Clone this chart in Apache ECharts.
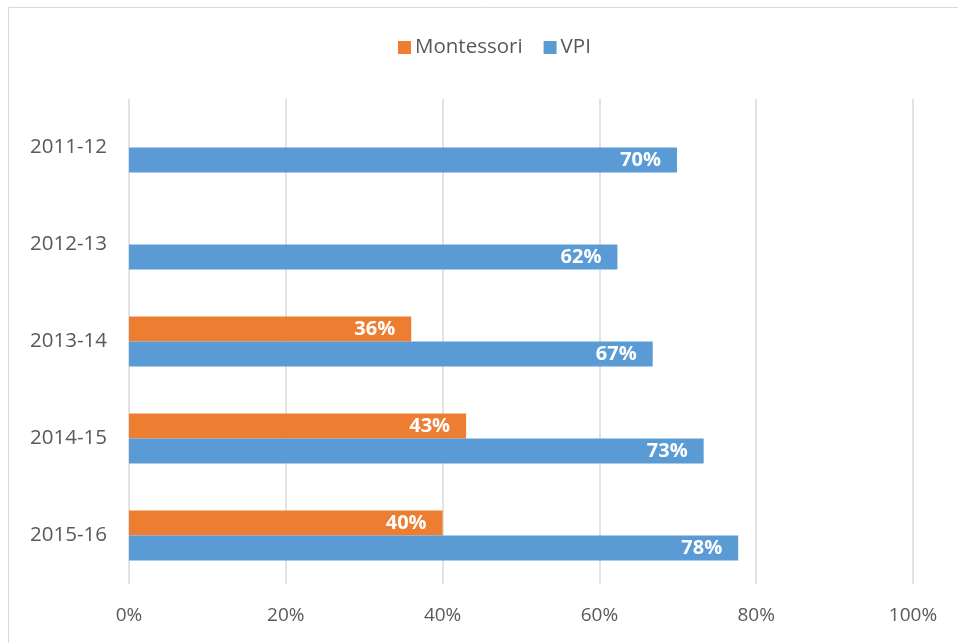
<!DOCTYPE html>
<html><head><meta charset="utf-8">
<script src="https://cdn.jsdelivr.net/npm/echarts@6/dist/echarts.min.js"></script>
<style>html,body{margin:0;padding:0;background:#fff}#c{width:958px;height:643px}</style>
</head><body><div id="c"></div>
<script>
const categories = ['2011-12','2012-13','2013-14','2014-15','2015-16'];
const montessori = [null, null, 36, 43, 40];
const vpi = [69.9, 62.3, 66.8, 73.3, 77.7];
const xTicks = [0, 20, 40, 60, 80, 100];

const FONT = '"Open Sans", "Noto Sans", sans-serif';
const chart = echarts.init(document.getElementById('c'));
chart.setOption({
  animation: false,
  backgroundColor: '#fff',
  graphic: [{type:'rect', shape:{x:8.5,y:7.5,width:1000,height:700}, style:{fill:'none', stroke:'#d9d9d9', lineWidth:1}, silent:true}],
  legend: {
    top: 32, left: 393, itemWidth: 13, itemHeight: 13, itemGap: 21,
    icon: 'rect',
    textStyle: {fontFamily: FONT, fontSize: 20.5, color: '#595959', padding:[0,0,0,-1]},
    data: ['Montessori','VPI']
  },
  grid: {left: 129, right: 45, top: 99, bottom: 59, containLabel: false},
  xAxis: {
    type: 'value', min: 0, max: 100, interval: 20,
    axisLine: {show:false}, axisTick: {show:false},
    splitLine: {lineStyle: {color:'#d9d9d9', width:1.5}},
    axisLabel: {formatter: v => xTicks.includes(v) ? v + '%' : '', margin: 22, fontFamily: FONT, fontSize: 19, color: '#595959'}
  },
  yAxis: {
    type: 'category', data: categories, inverse: true,
    axisLine: {show:false}, axisTick: {show:false},
    axisLabel: {margin: 22, fontFamily: FONT, fontSize: 20.5, color: '#595959'}
  },
  series: [
    {name:'Montessori', type:'bar', data: montessori, barWidth: 25, barGap: '0%',
     itemStyle:{color:'#ed7d31'},
     label:{show:true, position:'insideRight', distance:16, formatter: p => Math.round(p.value)+'%', color:'#fff', fontWeight:'bold', fontFamily: FONT, fontSize: 20}},
    {name:'VPI', type:'bar', data: vpi, barWidth: 25, barGap: '0%',
     itemStyle:{color:'#5b9bd5'},
     label:{show:true, position:'insideRight', distance:16, formatter: p => Math.round(p.value)+'%', color:'#fff', fontWeight:'bold', fontFamily: FONT, fontSize: 20}}
  ]
});
</script></body></html>
